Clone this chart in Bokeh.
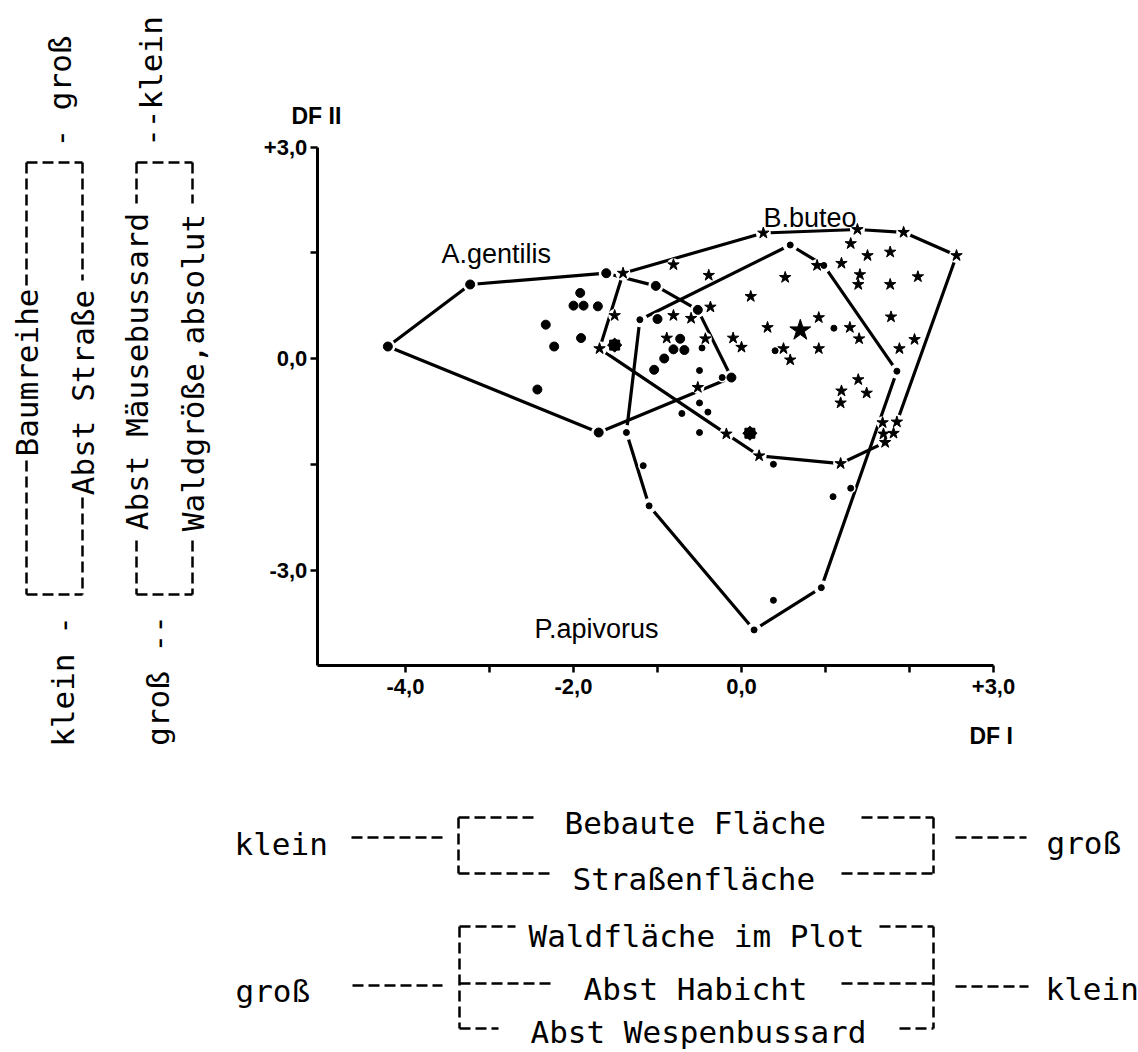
import math
from bokeh.plotting import figure
from bokeh.models import Range1d, LinearAxis, FixedTicker, CustomJSTickFormatter
from bokeh.core.properties import value
from bokeh.embed import file_html
from bokeh.resources import INLINE

# ---------------- data: discriminant scores (DF I, DF II) ----------------
gentilis_hull_x = [-4.21, -3.23, -1.61, -1.02, -0.52, -0.12, -1.70]
gentilis_hull_y = [0.17, 1.05, 1.21, 1.03, 0.69, -0.27, -1.05]
gentilis_x = [-1.92, -2.00, -1.88, -1.71, -2.33, -2.23, -1.91, -2.43, -1.00, -0.73, -0.81, -0.68, -0.92, -1.04]
gentilis_y = [0.93, 0.75, 0.75, 0.74, 0.48, 0.17, 0.29, -0.44, 0.56, 0.28, 0.13, 0.12, 0.00, -0.16]
gentilis_centroid_x = [-1.51]
gentilis_centroid_y = [0.19]

buteo_hull_x = [-1.41, 0.26, 1.38, 1.93, 2.56, 1.85, 1.81, 1.71, 1.18, 0.21, -0.18, -1.69]
buteo_hull_y = [1.21, 1.78, 1.83, 1.79, 1.46, -0.90, -1.06, -1.19, -1.49, -1.38, -1.07, 0.14]
buteo_x = [-0.81, -0.39, -0.37, -0.60, -0.81, -1.51, -0.89, -0.43, -0.10, 0.00, -0.52, 0.11, 0.52,
           0.31, 0.50, 0.58, 0.90, 1.30, 1.50, 1.77, 1.19, 1.41, 1.39, 1.77, 2.10, 1.78, 0.92,
           1.29, 1.40, 2.06, 1.88, 0.92, 1.39, 1.19, 1.49, 1.18, 1.69, 1.68]
buteo_y = [1.33, 1.18, 0.73, 0.57, 0.61, 0.61, 0.29, 0.28, 0.29, 0.16, -0.41, 0.88, 1.15,
           0.44, 0.14, -0.02, 1.32, 1.63, 1.46, 1.51, 1.35, 1.19, 1.05, 1.05, 1.16, 0.59, 0.58,
           0.44, 0.28, 0.27, 0.14, 0.14, -0.30, -0.46, -0.49, -0.63, -1.07, -0.91]
buteo_centroid_x = [0.70]
buteo_centroid_y = [0.40]

apivorus_hull_x = [-1.21, 0.58, 0.98, 1.85, 0.95, 0.15, -1.10, -1.37]
apivorus_hull_y = [0.55, 1.61, 1.32, -0.18, -3.25, -3.85, -2.09, -1.05]
apivorus_x = [-0.47, -0.50, -0.23, -0.50, -0.40, -0.71, -0.50, 0.40, 1.10, 0.38, 1.09, 1.30, 0.38, -1.17]
apivorus_y = [0.15, -0.17, -0.27, -0.63, -0.76, -0.78, -1.05, 0.11, 0.43, -1.50, -1.96, -1.84, -3.43, -1.52]
apivorus_centroid_x = [0.10]
apivorus_centroid_y = [-1.06]

species_labels = ["A.gentilis", "B.buteo", "P.apivorus"]
x_ticks = [-4.0, -2.0, 0.0, 3.0]
x_minor_ticks = [-3.0, -1.0, 1.0, 2.0]
y_ticks = [-3.0, 0.0, 3.0]
y_minor_ticks = [-1.5, 1.5]
x_title = "DF I"
y_title = "DF II"

left_texts = ["Baumreihe", "Abst Straße", "Abst Mäusebussard", "Waldgröße,absolut",
              "- groß", "--klein", "klein -", "groß --"]
bottom_texts = ["klein", "Bebaute Fläche", "Straßenfläche", "groß",
                "groß", "Waldfläche im Plot", "Abst Habicht", "Abst Wespenbussard", "klein"]

# ---------------- layout (page pixels, canvas starts at 0,0) ----------------
W, H = 1138, 1052
X0, XS = 741.0, 84.0     # page x of DF I = 0, px per unit
Y0, YS = 358.0, 70.5     # page y of DF II = 0, px per unit

p = figure(width=W, height=H, output_backend="svg", toolbar_location=None,
           x_range=Range1d((0 - X0) / XS, (W - X0) / XS),
           y_range=Range1d((Y0 - H) / YS, (Y0 - 0) / YS),
           x_axis_location=None, y_axis_location=None, min_border=0)
p.extra_x_ranges = {"px": Range1d(0, W)}
p.extra_y_ranges = {"px": Range1d(H, 0)}
p.outline_line_color = None
p.grid.grid_line_color = None
p.background_fill_color = "white"
p.border_fill_color = "white"

fmt = CustomJSTickFormatter(code="return (tick > 0 ? '+' : '') + tick.toFixed(1).replace('.', ',');")

def style_axis(ax):
    ax.axis_line_width = 3
    ax.axis_line_color = "black"
    ax.major_tick_line_width = 2.5
    ax.minor_tick_line_width = 2.5
    ax.major_tick_in = 0
    ax.major_tick_out = 7
    ax.minor_tick_in = 0
    ax.minor_tick_out = 7
    ax.major_label_text_font = "Liberation Sans"
    ax.major_label_text_font_style = "bold"
    ax.major_label_text_font_size = "22px"
    ax.major_label_text_color = "black"

xaxis = LinearAxis(fixed_location=-4.35, bounds=(-5.05, 3.0),
                   ticker=FixedTicker(ticks=x_ticks, minor_ticks=x_minor_ticks), formatter=fmt)
style_axis(xaxis)
xaxis.major_label_standoff = 7
p.add_layout(xaxis, "below")

yaxis = LinearAxis(fixed_location=-5.05, bounds=(-4.35, 3.0),
                   ticker=FixedTicker(ticks=y_ticks, minor_ticks=y_minor_ticks), formatter=fmt)
style_axis(yaxis)
yaxis.major_label_standoff = 3
p.add_layout(yaxis, "left")

# ---------------- hulls ----------------
for hx, hy in [(gentilis_hull_x, gentilis_hull_y), (buteo_hull_x, buteo_hull_y),
               (apivorus_hull_x, apivorus_hull_y)]:
    p.line(hx + hx[:1], hy + hy[:1], line_color="black", line_width=3.2)

# white halos (gaps in the lines around the symbols)
for hx, hy in [(gentilis_hull_x, gentilis_hull_y), (buteo_hull_x, buteo_hull_y),
               (apivorus_hull_x, apivorus_hull_y)]:
    p.scatter(hx, hy, marker="circle", size=15, fill_color="white", line_color=None)
p.scatter(gentilis_x, gentilis_y, marker="circle", size=13, fill_color="white", line_color=None)
p.scatter(buteo_x, buteo_y, marker="circle", size=13, fill_color="white", line_color=None)
p.scatter(apivorus_x, apivorus_y, marker="circle", size=10, fill_color="white", line_color=None)
for cx, cy, s in [(gentilis_centroid_x, gentilis_centroid_y, 20), (buteo_centroid_x, buteo_centroid_y, 24),
                  (apivorus_centroid_x, apivorus_centroid_y, 20)]:
    p.scatter(cx, cy, marker="circle", size=s, fill_color="white", line_color=None)

# symbols
p.scatter(gentilis_hull_x, gentilis_hull_y, marker="circle", size=9, color="black")
p.scatter(gentilis_x, gentilis_y, marker="circle", size=9, color="black")
p.scatter(buteo_hull_x, buteo_hull_y, marker="star", size=12, color="black")
p.scatter(buteo_x, buteo_y, marker="star", size=12, color="black")
p.scatter(apivorus_hull_x, apivorus_hull_y, marker="circle", size=6, color="black")
p.scatter(apivorus_x, apivorus_y, marker="circle", size=6, color="black")

# group centroids
for cx, cy in [(gentilis_centroid_x, gentilis_centroid_y), (apivorus_centroid_x, apivorus_centroid_y)]:
    p.scatter(cx, cy, marker="square", size=10, color="black")
    p.scatter(cx, cy, marker="square", size=10, angle=math.pi / 4, color="black")
p.scatter(buteo_centroid_x, buteo_centroid_y, marker="star", size=22, color="black")

# ---------------- chart texts ----------------
sans = value("Liberation Sans")
p.text(x=[441, 763, 534], y=[253, 217, 628], text=species_labels,
       x_range_name="px", y_range_name="px", text_font=sans, text_font_size="27px",
       text_align="left", text_baseline="alphabetic", text_color="black")
p.text(x=[291, 969], y=[115, 735], text=[y_title, x_title],
       x_range_name="px", y_range_name="px", text_font=sans, text_font_size="23px",
       text_font_style="bold", text_align="left", text_baseline="alphabetic", text_color="black")

# ---------------- typewriter annotations ----------------
mono = value("DejaVu Sans Mono")
dash = "11 5"

# left column (rotated)
p.text(x=[26, 82, 136, 192, 59, 150, 62, 157],
       y=[372, 392, 371, 372, 91, 81, 681, 680],
       text=left_texts, angle=math.pi / 2,
       x_range_name="px", y_range_name="px", text_font=mono, text_font_size="31px",
       text_align="center", text_baseline="middle", text_color="black")
p.segment(x0=[26, 26, 82, 82, 26, 26, 136, 136, 192, 192, 136, 136],
          y0=[162, 460, 162, 497, 162, 594, 162, 540, 162, 540, 162, 594],
          x1=[26, 26, 82, 82, 82, 82, 136, 136, 192, 192, 192, 192],
          y1=[285, 594, 280, 594, 162, 594, 203, 594, 203, 594, 162, 594],
          x_range_name="px", y_range_name="px", line_color="black", line_width=2.5,
          line_dash=dash)

# bottom block
p.text(x=[234, 564, 572, 1046, 235, 528, 583, 530, 1045],
       y=[843, 822, 878, 842, 990, 935, 988, 1031, 988],
       text=bottom_texts,
       x_range_name="px", y_range_name="px", text_font=mono, text_font_size="31px",
       text_align="left", text_baseline="alphabetic", text_color="black")
p.segment(x0=[351, 458, 458, 861, 933, 458, 841, 955,
              352, 459, 459, 879, 933, 459, 841, 459, 899, 955],
          y0=[837, 817, 817, 817, 817, 873, 873, 837,
              985, 926, 926, 926, 926, 983, 983, 1028, 1028, 986],
          x1=[442, 458, 535, 933, 933, 553, 933, 1026,
              442, 459, 515, 933, 933, 553, 933, 498, 933, 1028],
          y1=[837, 873, 817, 817, 873, 873, 873, 837,
              985, 1028, 926, 926, 1028, 983, 983, 1028, 1028, 986],
          x_range_name="px", y_range_name="px", line_color="black", line_width=2.5,
          line_dash=dash)

open("out.html", "w").write(file_html(p, INLINE))
